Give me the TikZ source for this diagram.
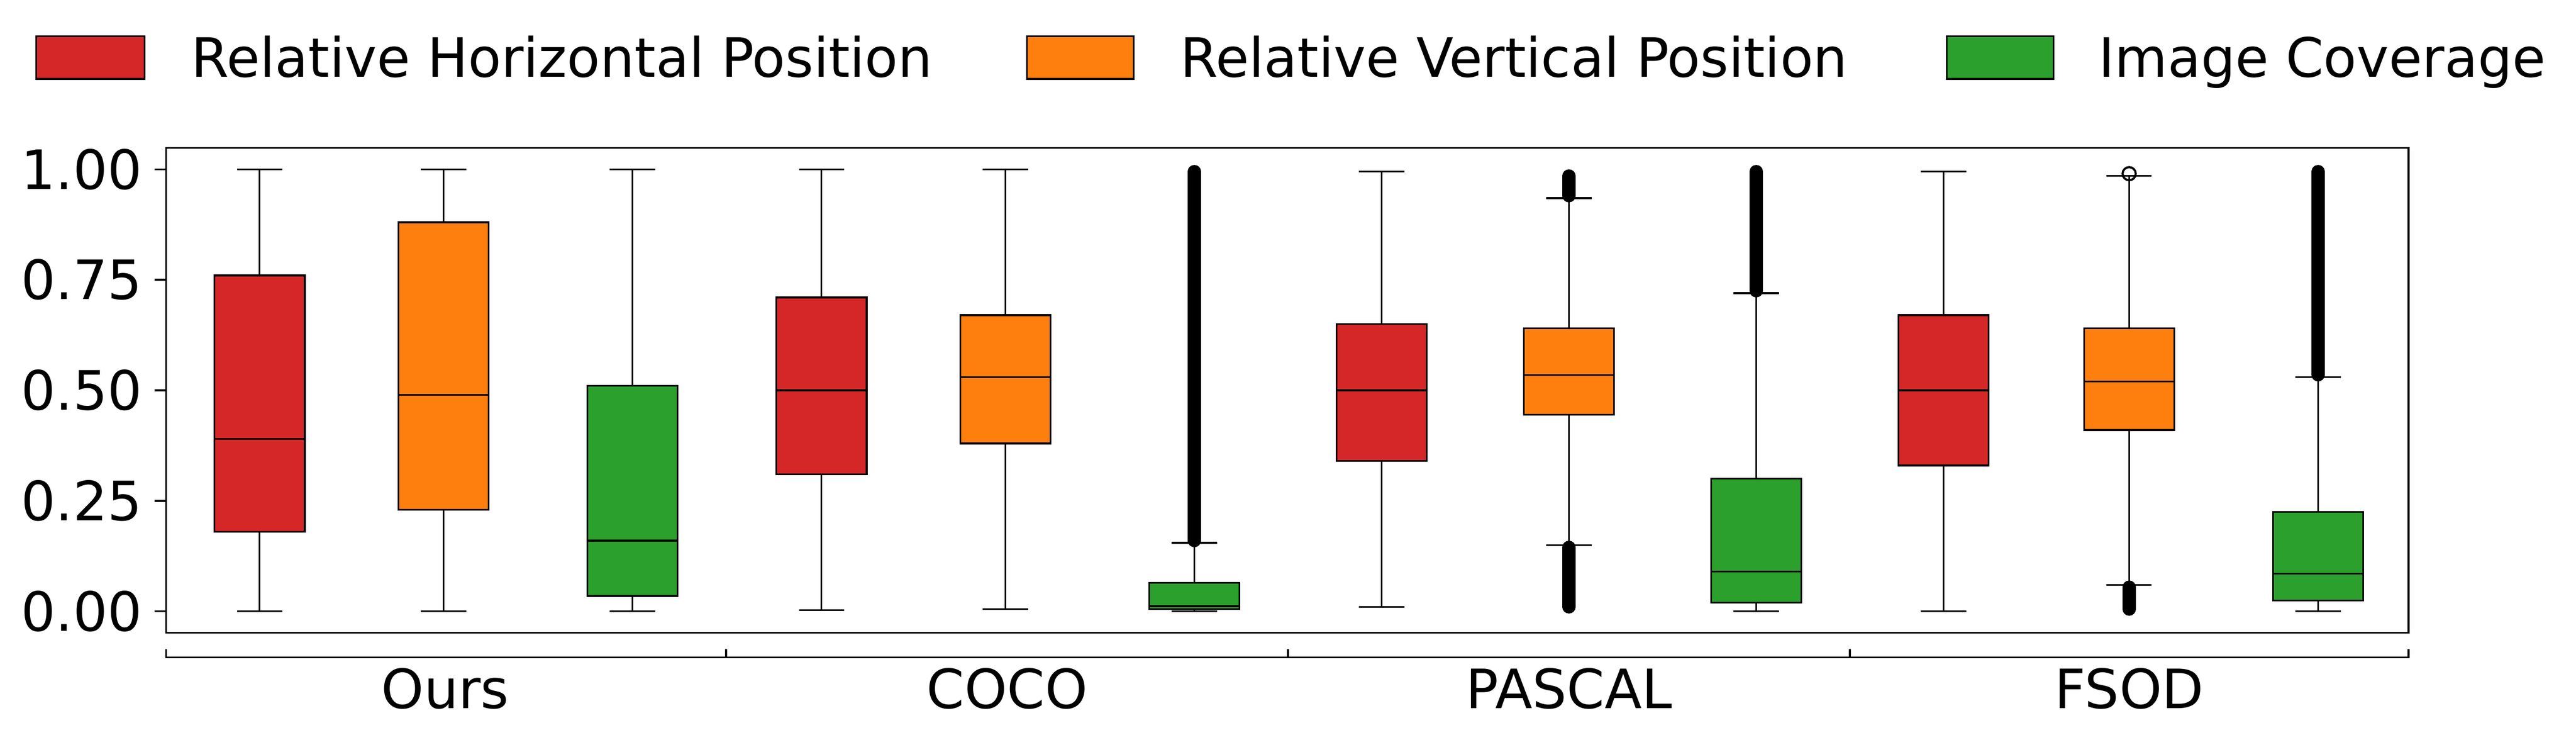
\documentclass[tikz,border=0pt]{standalone}
\usepackage{fontspec}
\setmainfont{DejaVu Sans}
\definecolor{cr}{HTML}{D62728}
\definecolor{co}{HTML}{FF7F0E}
\definecolor{cg}{HTML}{2CA02C}
\newcommand{\bx}[7]{%
 \draw[fill=#7] ({#1-27.5},#3) rectangle ({#1+27.5},#5);
 \draw ({#1-27.5},#4)--({#1+27.5},#4);
 \draw (#1,#2)--(#1,#3) (#1,#5)--(#1,#6);
 \draw ({#1-13.75},#2)--({#1+13.75},#2) ({#1-13.75},#6)--({#1+13.75},#6);}
\begin{document}
\begin{tikzpicture}[x=1pt,y=1pt,line width=1.1pt,font=\fontsize{33}{36}\selectfont,
 lab/.style={anchor=base west,inner sep=0}]
\useasboundingbox (0,0) rectangle (1568,447);
% legend
\draw[fill=cr] (22,399) rectangle (88,425);
\node[lab] (l1) at (116,400) {Relative Horizontal Position};
\draw[fill=co] (625,399) rectangle (690,425);
\node[lab] (l2) at (718,400) {Relative Vertical Position};
\draw[fill=cg] (1185,399) rectangle (1250,425);
\node[lab] (l3) at (1277,400) {Image Coverage};
% axes
\draw (101,62) rectangle (1466,357);
\begin{scope}[shift={(0,75)},y=269pt]
\foreach \v/\t in {0/0.00,0.25/0.25,0.5/0.50,0.75/0.75,1/1.00}{
 \draw (94,\v)--(101,\v);
 \node[anchor=east,inner sep=0] at (87,\v) {\t};}
% outliers
\begin{scope}[line width=8pt,line cap=round]
\draw (727,0.16)--(727,0.995);
\draw (955,0.94)--(955,0.985);
\draw (955,0.01)--(955,0.145);
\draw (1069,0.725)--(1069,0.995);
\draw (1296,0.005)--(1296,0.055);
\draw (1411,0.535)--(1411,0.995);
\end{scope}
\draw[line width=1.3pt] (1296,0.99) circle (4pt);
% boxes
\bx{158}{0}{0.18}{0.39}{0.76}{1}{cr}
\bx{270}{0}{0.23}{0.49}{0.88}{1}{co}
\bx{385}{0}{0.035}{0.16}{0.51}{1}{cg}
\bx{500}{0.003}{0.31}{0.50}{0.71}{1}{cr}
\bx{612}{0.005}{0.38}{0.53}{0.67}{1}{co}
\bx{727}{0}{0.005}{0.012}{0.065}{0.155}{cg}
\bx{841}{0.01}{0.34}{0.50}{0.65}{0.995}{cr}
\bx{955}{0.15}{0.445}{0.535}{0.64}{0.935}{co}
\bx{1069}{0}{0.02}{0.09}{0.30}{0.72}{cg}
\bx{1183}{0}{0.33}{0.50}{0.67}{0.995}{cr}
\bx{1296}{0.06}{0.41}{0.52}{0.64}{0.985}{co}
\bx{1411}{0}{0.025}{0.085}{0.225}{0.53}{cg}
\end{scope}
% group bracket
\draw (101,52)--(101,47)--(1466,47)--(1466,52);
\foreach \x in {442,784,1126} \draw (\x,47)--(\x,52);
\foreach \x/\t in {271/Ours,613/COCO,955/PASCAL,1296/FSOD}
 \node[anchor=base,inner sep=0] at (\x,16) {\t};
\end{tikzpicture}
\end{document}
